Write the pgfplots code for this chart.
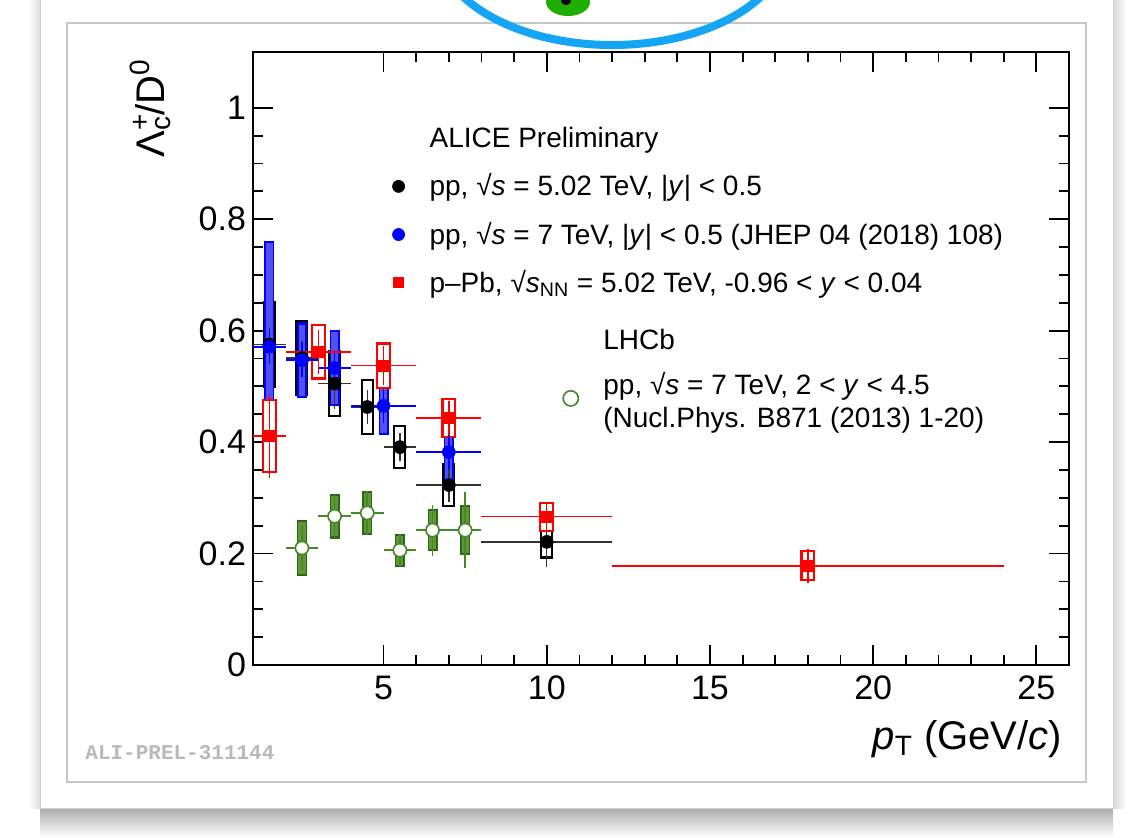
\documentclass[border=0pt]{standalone}
\usepackage{pgfplots}
\pgfplotsset{compat=1.18}
\usepackage{pgfplotstable}
\usepackage{fontspec}
\setmainfont{Liberation Sans}
\newfontfamily\monofont{Liberation Mono}
\definecolor{lhcbfill}{RGB}{95,150,55}
\definecolor{lhcbdraw}{RGB}{45,105,20}
\definecolor{lhcbmark}{RGB}{70,135,40}
\definecolor{ringblue}{RGB}{20,165,245}
\definecolor{blobgreen}{RGB}{30,175,0}
\definecolor{bluefill}{RGB}{80,80,245}

% x  y  ex  sys  stat
\pgfplotstableread{
x y ex sys stat
1.5 0.575 0.5 0.078 0.030
2.5 0.551 0.5 0.069 0.030
3.5 0.505 0.5 0.060 0.045
4.5 0.463 0.5 0.051 0.030
5.5 0.391 0.5 0.040 0.025
7 0.323 1 0.040 0.030
10 0.221 2 0.030 0.045
}\blackdata

\pgfplotstableread{
x y ex sys stat
1.5 0.571 0.5 0.190 0.030
2.5 0.547 0.5 0.068 0.030
3.5 0.533 0.5 0.068 0.030
5 0.465 1 0.052 0.030
7 0.382 1 0.067 0.030
}\bluedata

\pgfplotstableread{
x y ex sys stat
1.5 0.411 0.5 0.067 0.075
3 0.562 1 0.050 0.040
5 0.537 1 0.042 0.035
7 0.443 1 0.036 0.030
10 0.266 2 0.027 0.025
18 0.178 6 0.028 0.030
}\reddata

\pgfplotstableread{
x y ex sys stat
2.5 0.210 0.5 0.051 0.040
3.5 0.267 0.5 0.040 0.040
4.5 0.273 0.5 0.040 0.040
5.5 0.206 0.5 0.030 0.030
6.5 0.242 0.5 0.038 0.046
7.5 0.242 0.5 0.045 0.068
}\greendata

\begin{document}
\begin{tikzpicture}
\path[use as bounding box] (0pt,0pt) rectangle (564pt,-418.5pt);
\fill[white] (0pt,0pt) rectangle (564pt,-418.5pt);
\begin{scope}[x=0.5pt,y=-0.5pt]
  % shadows of the slide card
  \shade[top color=gray!70, bottom color=white] (40,806) rectangle (1113,837);
  \shade[left color=white, right color=gray!25] (28,0) rectangle (40,808);
  \shade[left color=gray!30, right color=white] (1113,0) rectangle (1127,808);
  % card
  \filldraw[fill=white, draw=gray!35, line width=0.5pt] (40,-10) rectangle (1113,808);
  % inner panel
  \filldraw[fill=white, draw=gray!45, line width=1pt] (67,23) rectangle (1086,782);
  % decoration at top
  \draw[ringblue, line width=4pt] (612,-57) ellipse [x radius=175, y radius=102];
  \fill[blobgreen] (568,2) ellipse [x radius=22, y radius=14];
  \fill[black] (566,1) ellipse [x radius=5, y radius=4];
  % preliminary label
  \node[anchor=west, inner sep=0pt, text=gray!55] at (85,753)
    {\monofont\bfseries\fontsize{10.5}{12}\selectfont ALI-PREL-311144};
\end{scope}

\begin{axis}[
  at={(126.5pt,-332.5pt)}, anchor=south west,
  scale only axis, width=408pt, height=306.5pt,
  xmin=1, xmax=26, ymin=0, ymax=1.1,
  xtick={5,10,15,20,25}, minor x tick num=4,
  ytick={0,0.2,0.4,0.6,0.8,1}, minor y tick num=3,
  tick align=inside,
  major tick length=10pt, minor tick length=5pt,
  every tick/.style={black, line width=0.9pt},
  axis line style={line width=1pt},
  tick label style={font=\fontsize{17}{20}\selectfont},
  xticklabel style={yshift=-2pt},
  /pgf/number format/assume math mode=true,
  xlabel={\textit{p}\textsubscript{T} (GeV/\textit{c})},
  xlabel style={font=\fontsize{20}{24}\selectfont, at={(axis description cs:1,0)}, anchor=base east, yshift=-42pt},
  ylabel={Λ\rlap{\textsuperscript{+}}\textsubscript{c}/D\textsuperscript{0}},
  ylabel style={font=\fontsize{20}{24}\selectfont, at={(axis description cs:-0.126,1)}, anchor=east},
  legend style={at={(axis description cs:0.157,0.884)}, anchor=north west,
    draw=none, fill=none, font=\fontsize{14}{16.8}\selectfont,
    row sep=7.5pt, inner sep=0pt,
    /tikz/every odd column/.append style={column sep=10.5pt}},
  legend cell align=left,
  error bars/error mark=none,
]
% ---- LHCb boxes
\addplot[forget plot, only marks, mark=none, error bars/.cd, y dir=both, y explicit,
  error bar style={line width=5pt, lhcbdraw}]
  table[x=x, y=y, y error=sys] {\greendata};
\addplot[forget plot, only marks, mark=none, error bars/.cd, y dir=both, y explicit,
  error bar style={line width=3.6pt, lhcbfill}]
  table[x=x, y=y, y error expr=\thisrow{sys}-0.004] {\greendata};
\addplot[forget plot, only marks, mark=*, mark size=3.3pt, draw=lhcbmark, fill=white,
  mark options={draw=lhcbmark, fill=white, line width=0.8pt},
  error bars/.cd, x dir=both, x explicit, y dir=both, y explicit,
  error bar style={line width=0.8pt, draw=lhcbmark}]
  table[x=x, y=y, x error=ex, y error=stat] {\greendata};
% ---- black boxes
\addplot[forget plot, only marks, mark=none, error bars/.cd, y dir=both, y explicit,
  error bar style={line width=6.5pt, black}]
  table[x=x, y=y, y error=sys] {\blackdata};
\addplot[forget plot, only marks, mark=none, error bars/.cd, y dir=both, y explicit,
  error bar style={line width=4.5pt, white}]
  table[x=x, y=y, y error expr=\thisrow{sys}-0.004] {\blackdata};
% ---- blue boxes
\addplot[forget plot, only marks, mark=none, error bars/.cd, y dir=both, y explicit,
  error bar style={line width=5pt, blue}]
  table[x=x, y=y, y error=sys] {\bluedata};
\addplot[forget plot, only marks, mark=none, error bars/.cd, y dir=both, y explicit,
  error bar style={line width=3.4pt, bluefill}]
  table[x=x, y=y, y error expr=\thisrow{sys}-0.004] {\bluedata};
% ---- red boxes
\addplot[forget plot, only marks, mark=none, error bars/.cd, y dir=both, y explicit,
  error bar style={line width=7.5pt, red}]
  table[x=x, y=y, y error=sys] {\reddata};
\addplot[forget plot, only marks, mark=none, error bars/.cd, y dir=both, y explicit,
  error bar style={line width=5.3pt, white}]
  table[x=x, y=y, y error expr=\thisrow{sys}-0.004] {\reddata};
% ---- stat errors and markers
\addplot[forget plot, only marks, mark=*, mark size=3.2pt, black,
  error bars/.cd, x dir=both, x explicit, y dir=both, y explicit,
  error bar style={line width=0.7pt, black!80}]
  table[x=x, y=y, x error=ex, y error=stat] {\blackdata};
\addplot[forget plot, only marks, mark=*, mark size=3.2pt, blue,
  error bars/.cd, x dir=both, x explicit, y dir=both, y explicit,
  error bar style={line width=0.7pt, blue}]
  table[x=x, y=y, x error=ex, y error=stat] {\bluedata};
\addplot[forget plot, only marks, mark=square*, mark size=2.8pt, red,
  error bars/.cd, x dir=both, x explicit, y dir=both, y explicit,
  error bar style={line width=0.7pt, red}]
  table[x=x, y=y, x error=ex, y error=stat] {\reddata};
% ---- legend (ALICE)
\addlegendimage{empty legend}
\addlegendentry{ALICE Preliminary}
\addlegendimage{only marks, mark=*, mark size=3pt, black}
\addlegendentry{pp, √\textit{s} = 5.02 TeV, |\textit{y}| < 0.5}
\addlegendimage{only marks, mark=*, mark size=3pt, blue}
\addlegendentry{pp, √\textit{s} = 7 TeV, |\textit{y}| < 0.5 (JHEP 04 (2018) 108)}
\addlegendimage{only marks, mark=square*, mark size=2.6pt, red}
\addlegendentry{p–Pb, √\textit{s}\textsubscript{NN} = 5.02 TeV, -0.96 < \textit{y} < 0.04}
\end{axis}

\begin{axis}[
  at={(126.5pt,-332.5pt)}, anchor=south west,
  scale only axis, width=408pt, height=306.5pt,
  xmin=1, xmax=26, ymin=0, ymax=1.1,
  hide axis,
  legend style={at={(axis description cs:0.368,0.555)}, anchor=north west,
    draw=none, fill=none, font=\fontsize{14}{16.8}\selectfont,
    row sep=5pt, inner sep=0pt,
    /tikz/every odd column/.append style={column sep=10.5pt}},
  legend cell align=left,
]
\addlegendimage{empty legend}
\addlegendentry{LHCb}
\addlegendimage{only marks, mark=o, mark size=3.8pt, lhcbmark, mark options={line width=0.8pt, yshift=-3pt}}
\addlegendentry{\begin{tabular}{@{}l@{}}pp, √\textit{s} = 7 TeV, 2 < \textit{y} < 4.5\\(Nucl.Phys. B871 (2013) 1-20)\end{tabular}}
\end{axis}
\end{tikzpicture}
\end{document}
